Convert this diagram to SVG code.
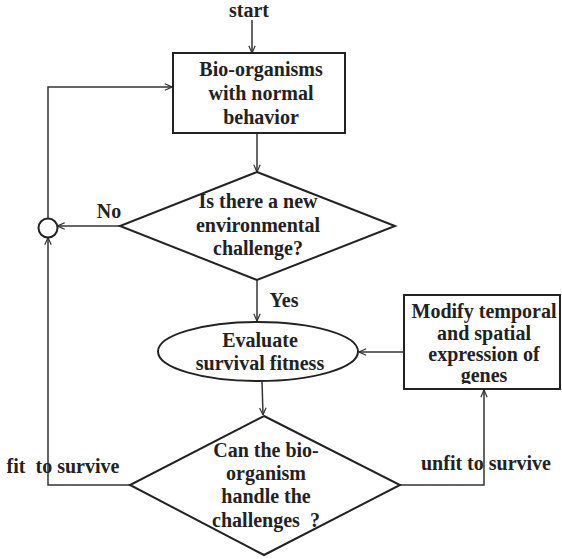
<svg xmlns="http://www.w3.org/2000/svg" width="562" height="559" viewBox="0 0 562 559">
<style>
text{font-family:"Liberation Serif","Times New Roman",serif;font-weight:bold;font-size:20px;fill:#222;text-anchor:middle}
.shape{fill:#fff;stroke:#222;stroke-width:2}
.conn{fill:none;stroke:#333;stroke-width:1.5;marker-end:url(#arr)}
</style>
<defs>
<marker id="arr" viewBox="0 0 10 10" refX="10" refY="5" markerWidth="8" markerHeight="8" markerUnits="userSpaceOnUse" orient="auto">
<polyline points="1,1 10,5 1,9" fill="none" stroke="#333" stroke-width="1.5"/>
</marker>
</defs>
<g id="connectors">
<line class="conn" x1="252" y1="20" x2="252" y2="53"/>
<line class="conn" x1="257" y1="133" x2="257" y2="172"/>
<line class="conn" x1="120" y1="226" x2="57.5" y2="226"/>
<polyline class="conn" points="48,218.5 48,87 172,87"/>
<line class="conn" x1="257" y1="280" x2="257" y2="321"/>
<line class="conn" x1="404" y1="352" x2="359" y2="352"/>
<line class="conn" x1="262" y1="381" x2="263" y2="415"/>
<polyline class="conn" points="130,485 48,485 48,237.5"/>
<polyline class="conn" points="400,485 484,485 484,390"/>
</g>
<g id="start"><text x="249" y="17">start</text></g>
<g id="bio">
<rect class="shape" x="173" y="53" width="172" height="80"/>
<text x="261" y="76">Bio-organisms</text>
<text x="261" y="100">with normal</text>
<text x="261" y="124">behavior</text>
</g>
<g id="merge"><circle class="shape" cx="48" cy="228" r="9.5" stroke-width="1.8"/></g>
<g id="q1">
<polygon class="shape" points="257,172 395,226 257,280 120,226"/>
<text x="258" y="208">Is there a new</text>
<text x="258" y="232">environmental</text>
<text x="258" y="255">challenge?</text>
</g>
<g id="lbl-no"><text x="109" y="218">No</text></g>
<g id="lbl-yes"><text x="284" y="307">Yes</text></g>
<g id="evaluate">
<ellipse class="shape" cx="258" cy="351.5" rx="100" ry="29.5"/>
<text x="260" y="347">Evaluate</text>
<text x="260" y="370">survival fitness</text>
</g>
<g id="modify">
<text x="484" y="318">Modify temporal</text>
<text x="484" y="340">and spatial</text>
<text x="484" y="361">expression of</text>
<text x="484" y="382">genes</text>
<rect x="405" y="384" width="154" height="6" fill="#fff"/>
<rect x="404" y="295" width="156" height="94" fill="none" stroke="#222" stroke-width="2"/>
</g>
<g id="q2">
<polygon class="shape" points="264,416 400,485 264,555 130,485"/>
<text x="266" y="457">Can the bio-</text>
<text x="266" y="480">organism</text>
<text x="266" y="503">handle the</text>
<text x="266" y="527" xml:space="preserve">challenges  ?</text>
</g>
<g id="lbl-fit"><text x="63" y="473" xml:space="preserve">fit  to survive</text></g>
<g id="lbl-unfit"><text x="486" y="470">unfit to survive</text></g>
</svg>
